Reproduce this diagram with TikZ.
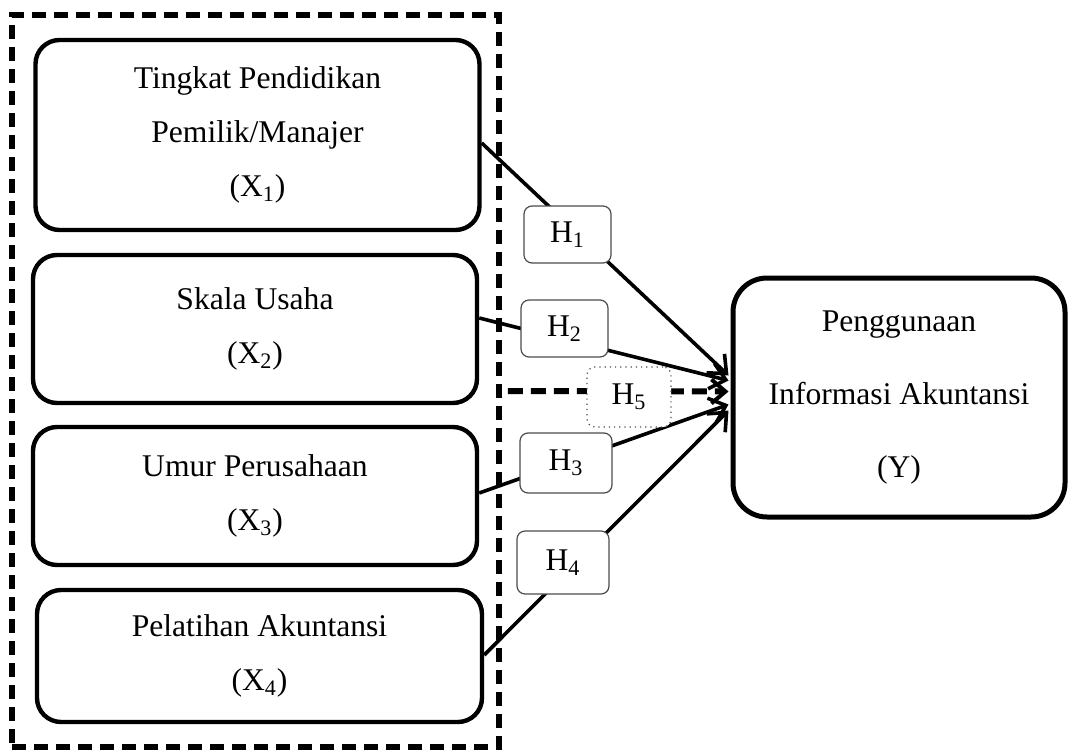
\documentclass[tikz,border=0pt]{standalone}
\usepackage{fontspec}
\setmainfont{Liberation Serif}
\usetikzlibrary{arrows.meta,calc}
\begin{document}
\begin{tikzpicture}[x=0.5pt,y=-0.5pt,
  txt/.style={font={\fontsize{15.8}{27}\selectfont}},
  xbox/.style={txt,draw,line width=2.2pt,rounded corners=12pt,align=center,inner sep=0pt,minimum width=222pt},
  ybox/.style={draw,line width=2.5pt,rounded corners=17pt,align=center,inner sep=0pt,font={\fontsize{15.8}{36.5}\selectfont}},
  hbox/.style={txt,draw=black!70,line width=0.6pt,fill=white,rounded corners=4pt,inner sep=0pt},
  grpbox/.style={draw,line width=2.8pt,dash pattern=on 7pt off 4pt,inner sep=0pt},
  link/.style={line width=1.8pt,-{Straight Barb[length=7.5pt,width=13pt,line width=1.8pt]}},
  dlink/.style={line width=3pt,dash pattern=on 7.5pt off 4pt,-{Straight Barb[length=7pt,width=12pt,line width=2pt]}}]
\useasboundingbox (0,0) rectangle (1069,749);
\node[grpbox,minimum width=243.5pt,minimum height=366pt] (grp) at (255.5,381) {};
\node[xbox,minimum height=95pt] (X1) at (257.5,135) {Tingkat Pendidikan\\Pemilik/Manajer\\(X\textsubscript{1})};
\node[xbox,minimum height=74pt] (X2) at (255,329) {Skala Usaha\\(X\textsubscript{2})};
\node[xbox,minimum height=69pt] (X3) at (255,496) {Umur Perusahaan\\(X\textsubscript{3})};
\node[xbox,minimum width=222.5pt,minimum height=66pt] (X4) at (259.5,656) {Pelatihan Akuntansi\\(X\textsubscript{4})};
\node[ybox,minimum width=166pt,minimum height=119.5pt] (Y) at (899,397.5) {Penggunaan\\Informasi Akuntansi\\(Y)};
\coordinate (t1) at ($(Y.west)+(-2,-22)$);
\coordinate (t2) at ($(Y.west)+(-2,-17)$);
\coordinate (t5) at ($(Y.west)+(-2,-6)$);
\coordinate (t3) at ($(Y.west)+(-2,7)$);
\coordinate (t4) at ($(Y.west)+(-2,13)$);
\draw[link] ($(X1.east)+(0,8)$) -- (t1);
\draw[link] ($(X2.east)+(0,-11)$) -- (t2);
\draw[dlink] ($(grp.east)+(6,10)$) -- (t5);
\draw[link] ($(X3.east)+(0,-3)$) -- (t3);
\draw[link] ($(X4.east)+(0,-1)$) -- (t4);
\node[hbox,minimum width=43.5pt,minimum height=28.5pt] (H1) at (567.5,234.5) {H\textsubscript{1}};
\node[hbox,minimum width=43.5pt,minimum height=28.5pt] (H2) at (564.5,328.5) {H\textsubscript{2}};
\node[hbox,dotted,minimum width=42pt,minimum height=30pt] (H5) at (629,397) {H\textsubscript{5}};
\node[hbox,minimum width=46pt,minimum height=30pt] (H3) at (566,463) {H\textsubscript{3}};
\node[hbox,minimum width=46pt,minimum height=31.5pt] (H4) at (563,562.5) {H\textsubscript{4}};
\end{tikzpicture}
\end{document}
